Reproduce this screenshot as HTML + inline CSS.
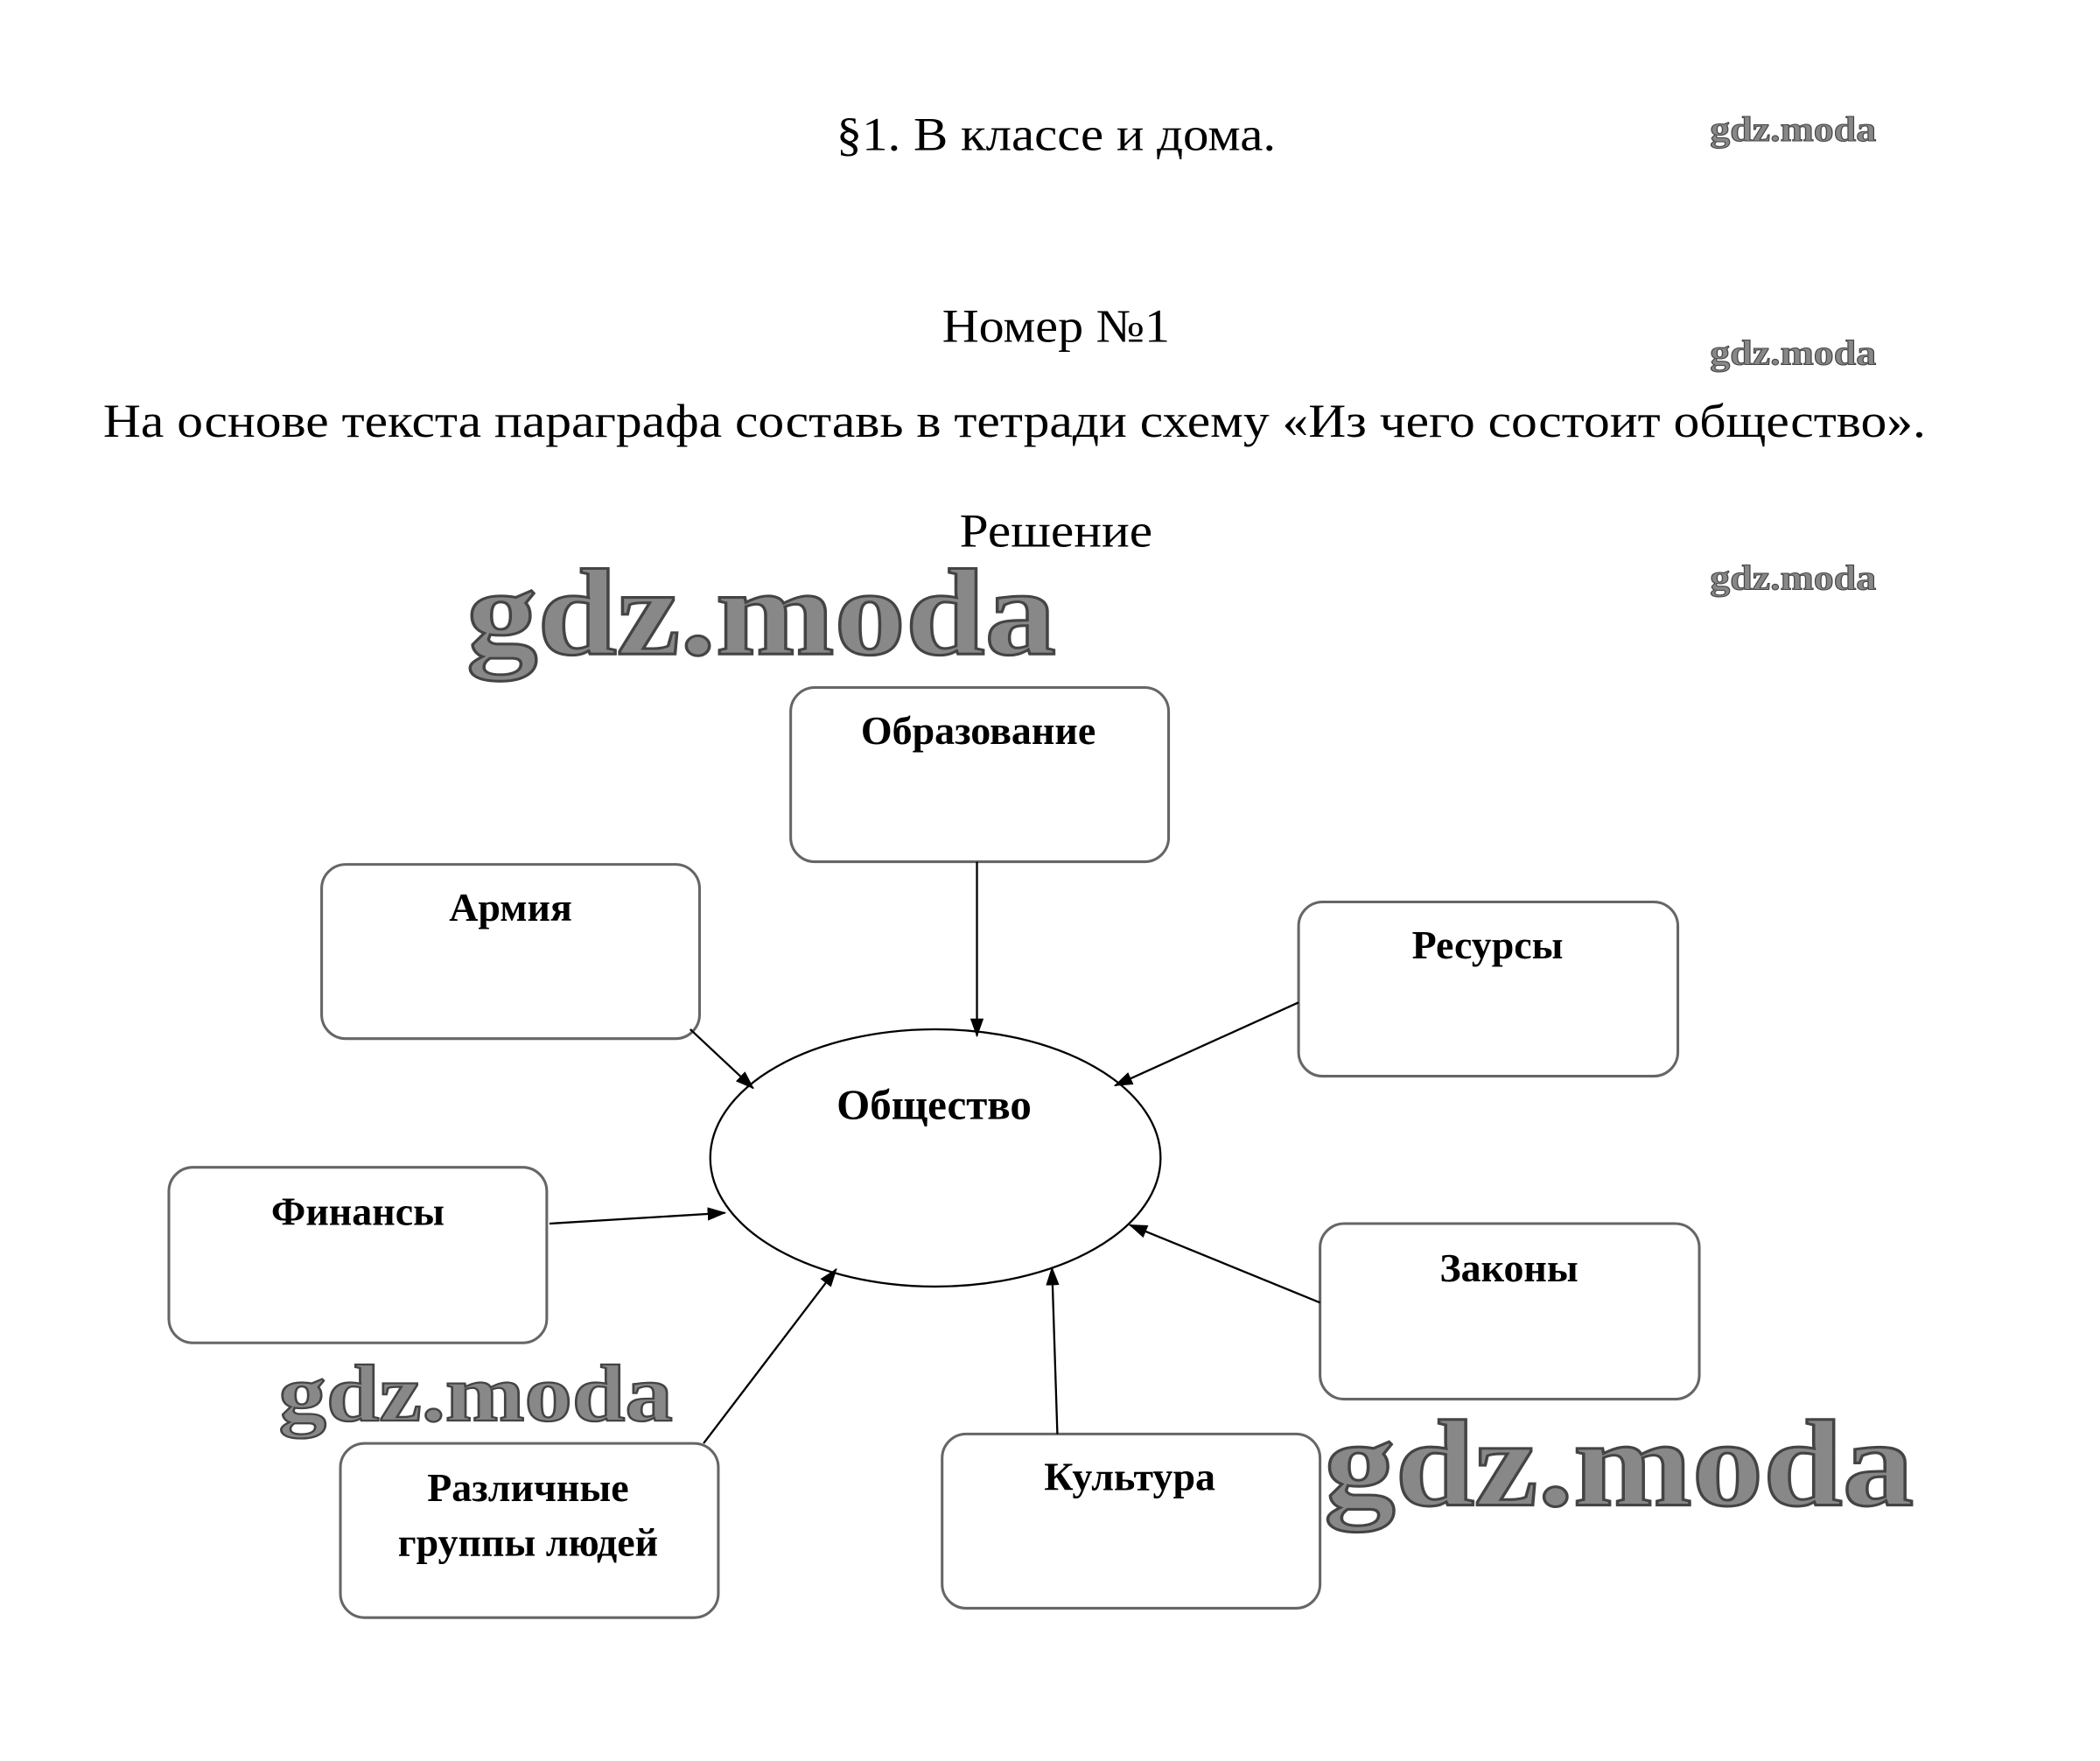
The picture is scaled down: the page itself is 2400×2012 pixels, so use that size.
<!DOCTYPE html>
<html><head><meta charset="utf-8"><style>
html,body{margin:0;padding:0;background:#fff;}
svg{display:block}
</style></head><body>
<svg width="2400" height="2012" viewBox="0 0 1567 1314" preserveAspectRatio="none" xmlns="http://www.w3.org/2000/svg" font-family="'Liberation Serif', serif">
<defs><marker id="a" markerWidth="14" markerHeight="10" refX="13" refY="5" orient="auto" markerUnits="userSpaceOnUse"><path d="M0,0 L14,5 L0,10 z" fill="#000"/></marker></defs>
<rect width="1567" height="1314" fill="#fff"/>
<text x="788" y="112" font-size="35" text-anchor="middle" textLength="328" lengthAdjust="spacingAndGlyphs">§1. В классе и дома.</text>
<text x="788" y="255" font-size="35" text-anchor="middle" textLength="170" lengthAdjust="spacingAndGlyphs">Номер №1</text>
<text x="77" y="326" font-size="35" textLength="1360" lengthAdjust="spacingAndGlyphs">На основе текста параграфа составь в тетради схему «Из чего состоит общество».</text>
<text x="788" y="408" font-size="35" text-anchor="middle" textLength="144" lengthAdjust="spacingAndGlyphs">Решение</text>
<g font-weight="bold" fill="#888" stroke="#444" stroke-width="0.7">
<text x="1276" y="105" font-size="26" textLength="124" lengthAdjust="spacingAndGlyphs">gdz.moda</text>
<text x="1276" y="272" font-size="26" textLength="124" lengthAdjust="spacingAndGlyphs">gdz.moda</text>
<text x="1276" y="440" font-size="26" textLength="124" lengthAdjust="spacingAndGlyphs">gdz.moda</text>
<text x="348" y="488" font-size="92" stroke-width="2" textLength="440" lengthAdjust="spacingAndGlyphs">gdz.moda</text>
<text x="208" y="1060" font-size="60" stroke-width="1.5" textLength="294" lengthAdjust="spacingAndGlyphs">gdz.moda</text>
<text x="988" y="1123" font-size="92" stroke-width="2" textLength="440" lengthAdjust="spacingAndGlyphs">gdz.moda</text>
</g>
<g fill="none" stroke="#666" stroke-width="2">
<rect x="590" y="513" width="282" height="130" rx="18"/>
<rect x="240" y="645" width="282" height="130" rx="18"/>
<rect x="969" y="673" width="283" height="130" rx="18"/>
<rect x="126" y="871" width="282" height="131" rx="18"/>
<rect x="985" y="913" width="283" height="131" rx="18"/>
<rect x="254" y="1077" width="282" height="130" rx="18"/>
<rect x="703" y="1070" width="282" height="130" rx="18"/>
</g>
<ellipse cx="698" cy="864" rx="168" ry="96" fill="none" stroke="#000" stroke-width="1.5"/>
<g stroke="#000" stroke-width="1.5" marker-end="url(#a)">
<line x1="729" y1="643" x2="729" y2="773"/>
<line x1="515" y1="768" x2="562" y2="812"/>
<line x1="969" y1="748" x2="832" y2="810"/>
<line x1="410" y1="913" x2="541" y2="905"/>
<line x1="985" y1="972" x2="843" y2="914"/>
<line x1="525" y1="1077" x2="624" y2="947"/>
<line x1="789" y1="1070" x2="785" y2="946"/>
</g>
<g font-weight="bold" font-size="30" text-anchor="middle">
<text x="730" y="555">Образование</text>
<text x="381" y="687">Армия</text>
<text x="1110" y="715">Ресурсы</text>
<text x="267" y="914">Финансы</text>
<text x="1126" y="956">Законы</text>
<text x="394" y="1120">Различные</text>
<text x="394" y="1161">группы людей</text>
<text x="843" y="1112">Культура</text>
<text x="697" y="835" font-size="32">Общество</text>
</g>
</svg>
</body></html>
